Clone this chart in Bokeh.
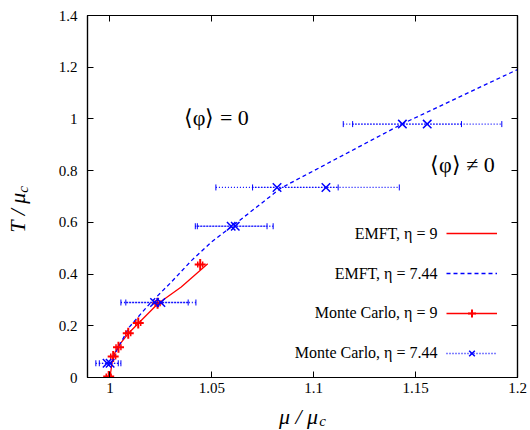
import math
from bokeh.plotting import figure
from bokeh.layouts import row, column
from bokeh.models import Range1d, LinearAxis, FixedTicker, Label, Legend, LegendItem, ColumnDataSource
from bokeh.core.properties import value
from bokeh.embed import file_html
from bokeh.resources import INLINE

# ---- data ----
# EMFT, eta = 9 (solid red)
emft9_mu = [1.0, 1.0015, 1.004, 1.009, 1.014, 1.0235, 1.035, 1.048]
emft9_T = [0.0, 0.08, 0.12, 0.17, 0.21, 0.285, 0.35, 0.44]
# EMFT, eta = 7.44 (dashed blue)
emft744_mu = [1.0, 1.003, 1.0095, 1.0195, 1.03, 1.04, 1.05, 1.06, 1.0838, 1.1435, 1.2]
emft744_T = [0.05, 0.10, 0.195, 0.285, 0.368, 0.452, 0.525, 0.585, 0.732, 0.981, 1.191]
# Monte Carlo, eta = 9 (red +, small x error bars)
mc9_mu = [0.9994, 1.0016, 1.0042, 1.009, 1.0139, 1.0234, 1.0443]
mc9_T = [0.004, 0.081, 0.117, 0.171, 0.211, 0.287, 0.437]
mc9_err = [0.0012, 0.0012, 0.0012, 0.0012, 0.0012, 0.0012, 0.0012]
# Monte Carlo, eta = 7.44 (blue x, dotted x error bars)
mc744_mu = [0.9986, 1.0001, 1.0219, 1.025, 1.0595, 1.0615, 1.082, 1.106, 1.1435, 1.1557]
mc744_T = [0.055, 0.055, 0.29, 0.29, 0.585, 0.585, 0.735, 0.735, 0.98, 0.98]
mc744_err = [0.0055, 0.0053, 0.0165, 0.0172, 0.0176, 0.0186, 0.030, 0.036, 0.029, 0.0366]

x_ticks = [1.0, 1.05, 1.1, 1.15, 1.2]
x_tick_labels = ["1", "1.05", "1.1", "1.15", "1.2"]
y_ticks = [0, 0.2, 0.4, 0.6, 0.8, 1.0, 1.2, 1.4]
y_tick_labels = ["0", "0.2", "0.4", "0.6", "0.8", "1", "1.2", "1.4"]

legend_labels = ["EMFT, \u03b7 = 9", "EMFT, \u03b7 = 7.44",
                 "Monte Carlo, \u03b7 = 9", "Monte Carlo, \u03b7 = 7.44"]

RED = "#ff0000"
BLUE = "#0000ff"
FONT = "Liberation Serif"

p = figure(width=490, height=400, x_range=Range1d(0.989, 1.2), y_range=Range1d(0, 1.4),
           output_backend="svg", toolbar_location=None,
           min_border_left=47, min_border_right=13, min_border_top=15, min_border_bottom=23)
p.grid.visible = False
p.outline_line_color = "black"
p.outline_line_width = 1.2
p.background_fill_color = "white"
p.border_fill_color = "white"

p.add_layout(LinearAxis(), "right")
p.add_layout(LinearAxis(), "above")

for ax in p.xaxis:
    ax.ticker = FixedTicker(ticks=x_ticks)
    ax.major_label_overrides = dict(zip(x_ticks, x_tick_labels))
for ax in p.yaxis:
    ax.ticker = FixedTicker(ticks=y_ticks)
    ax.major_label_overrides = dict(zip(y_ticks, y_tick_labels))
for ax in p.axis:
    ax.major_tick_in = 6
    ax.major_tick_out = 0
    ax.minor_tick_in = 0
    ax.minor_tick_out = 0
    ax.axis_line_color = "black"
    ax.axis_line_width = 1.2
    ax.major_tick_line_color = "black"
    ax.major_label_text_font = FONT
    ax.major_label_text_font_size = "15px"
    ax.major_label_text_color = "black"
p.xaxis[0].major_label_standoff = 8
p.yaxis[0].major_label_standoff = 10
for ax in (p.right[0], p.above[0]):
    ax.major_label_text_font_size = "1px"
    ax.major_label_text_color = None
    ax.major_label_standoff = 0

# EMFT curves
r_e9 = p.line(emft9_mu, emft9_T, line_color=RED, line_width=1.3)
r_e744 = p.line(emft744_mu, emft744_T, line_color=BLUE, line_width=1.3, line_dash="4 3")

# MC eta=9
s9 = ColumnDataSource(dict(mu=mc9_mu, T=mc9_T,
                           lo=[m - e for m, e in zip(mc9_mu, mc9_err)],
                           hi=[m + e for m, e in zip(mc9_mu, mc9_err)]))
r_b9 = p.segment(x0="lo", y0="T", x1="hi", y1="T", source=s9, line_color=RED, line_width=1.5)
p.scatter(x="lo", y="T", source=s9, marker="dash", angle=math.pi / 2, size=6, line_color=RED, line_width=1.5)
p.scatter(x="hi", y="T", source=s9, marker="dash", angle=math.pi / 2, size=6, line_color=RED, line_width=1.5)
r_m9 = p.scatter(x="mu", y="T", source=s9, marker="cross", size=11, line_color=RED, line_width=2)

# MC eta=7.44
s744 = ColumnDataSource(dict(mu=mc744_mu, T=mc744_T,
                             lo=[m - e for m, e in zip(mc744_mu, mc744_err)],
                             hi=[m + e for m, e in zip(mc744_mu, mc744_err)]))
r_b744 = p.segment(x0="lo", y0="T", x1="hi", y1="T", source=s744, line_color=BLUE,
                   line_width=1.3, line_dash="1 2")
p.scatter(x="lo", y="T", source=s744, marker="dash", angle=math.pi / 2, size=6, line_color=BLUE, line_width=1)
p.scatter(x="hi", y="T", source=s744, marker="dash", angle=math.pi / 2, size=6, line_color=BLUE, line_width=1)
r_m744 = p.scatter(x="mu", y="T", source=s744, marker="x", size=12, line_color=BLUE, line_width=1.5)

# legend samples (glyphs only; text drawn right-aligned to their left, gnuplot style)
legend = Legend(items=[
    LegendItem(label=value(" "), renderers=[r_e9]),
    LegendItem(label=value(" "), renderers=[r_e744]),
    LegendItem(label=value(" "), renderers=[r_b9, r_m9]),
    LegendItem(label=value(" "), renderers=[r_b744, r_m744]),
], location=(359, 14), glyph_width=51, glyph_height=20, label_height=20, label_width=0,
    label_standoff=0, spacing=20, padding=0, margin=0, border_line_color=None,
    background_fill_alpha=0, label_text_font_size="1px", label_text_color=None)
p.add_layout(legend)

for txt, yy in zip(legend_labels, [144, 104, 65, 25]):
    p.add_layout(Label(x=350, y=yy, x_units="screen", y_units="screen", text=txt,
                       text_align="right", text_baseline="middle", text_font=FONT,
                       text_font_size="16px", text_color="black"))

# phase annotations
p.add_layout(Label(x=1.0522, y=1.005, text="\u27e8\u03c6\u27e9 = 0", text_align="center",
                   text_baseline="middle", text_font=FONT, text_font_size="22px", text_color="black"))
p.add_layout(Label(x=1.173, y=0.824, text="\u27e8\u03c6\u27e9 \u2260 0", text_align="center",
                   text_baseline="middle", text_font=FONT, text_font_size="22px", text_color="black"))


def label_panel(w, h):
    f = figure(width=w, height=h, x_range=Range1d(0, w), y_range=Range1d(0, h),
               output_backend="svg", toolbar_location=None,
               x_axis_location=None, y_axis_location=None,
               min_border=0, min_border_left=0, min_border_right=0,
               min_border_top=0, min_border_bottom=0)
    f.grid.visible = False
    f.outline_line_color = None
    f.background_fill_color = "white"
    f.border_fill_color = "white"
    return f


# y-axis title panel (left of the main plot)
ylab = label_panel(40, 400)
ylab.add_layout(Label(x=17, y=165, x_units="screen", y_units="screen", text="T / \u03bc",
                      angle=math.pi / 2, text_align="center", text_baseline="middle", text_font=FONT,
                      text_font_style="italic", text_font_size="22px", text_color="black"))
ylab.add_layout(Label(x=22, y=188, x_units="screen", y_units="screen", text="c",
                      angle=math.pi / 2, text_align="center", text_baseline="middle", text_font=FONT,
                      text_font_style="italic", text_font_size="15px", text_color="black"))

# x-axis title panel (below)
xlab = label_panel(530, 30)
xlab.add_layout(Label(x=298, y=14, x_units="screen", y_units="screen", text="\u03bc / \u03bc",
                      text_align="center", text_baseline="middle", text_font=FONT,
                      text_font_style="italic", text_font_size="22px", text_color="black"))
xlab.add_layout(Label(x=322, y=10, x_units="screen", y_units="screen", text="c",
                      text_align="center", text_baseline="middle", text_font=FONT,
                      text_font_style="italic", text_font_size="15px", text_color="black"))

layout = column(row(ylab, p, spacing=0), xlab, spacing=0)

open("out.html", "w").write(file_html(layout, INLINE))
